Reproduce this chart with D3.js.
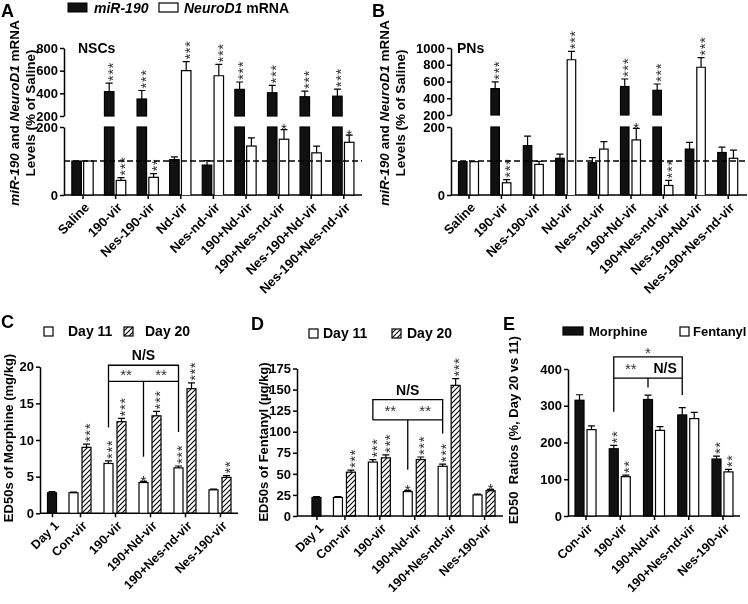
<!DOCTYPE html>
<html><head><meta charset="utf-8">
<script src="https://cdn.jsdelivr.net/npm/d3@7/dist/d3.min.js"></script>
<style>
body{margin:0;background:#fff}
svg{display:block}
text{white-space:pre}
</style></head><body>
<svg id="c" width="748" height="604"></svg>
<script>
// ---------------- DATA ----------------
const catsAB = ["Saline","190-vir","Nes-190-vir","Nd-vir","Nes-nd-vir","190+Nd-vir","190+Nes-nd-vir","Nes-190+Nd-vir","Nes-190+Nes-nd-vir"];
// Panel A (NSCs)
const aMir      = [100,415,350,104,88,435,405,370,375];
const aMirErr   = [0,75,75,8,13,65,65,50,62];
const aMirSig   = ["","***","***","","","***","***","***","***"];
const aNeuro    = [100,43,52,600,555,144,164,124,155];
const aNeuroErr = [0,8,11,80,100,24,28,20,21];
const aNeuroSig = ["","***","**","***","***","","*","","*"];
const aUpperTicks = [200,400,600,800];
// Panel B (PNs)
const bMir      = [98,515,145,108,95,540,495,135,125];
const bMirErr   = [0,80,28,12,15,90,75,20,16];
const bMirSig   = ["","***","","","","***","***","",""];
const bNeuro    = [98,36,90,860,135,162,28,770,108];
const bNeuroErr = [0,9,9,100,22,34,15,115,24];
const bNeuroSig = ["","***","","***","","*","***","***",""];
const bUpperTicks = [200,400,600,800,1000];
const lowerTicks = [0,200];

// Panels C–E groups
const catsCDE = ["Con-vir","190-vir","190+Nd-vir","190+Nes-nd-vir","Nes-190-vir"];
// Panel C (morphine ED50, mg/kg)
const cDay1 = 2.8, cDay1Err = 0.15;
const cDay11 = [2.8,6.8,4.2,6.2,3.2];
const cDay11Err = [0.1,0.35,0.15,0.25,0.1];
const cDay11Sig = ["","***","*","***",""];
const cDay20 = [9.0,12.5,13.3,17.0,4.9];
const cDay20Err = [0.45,0.45,0.6,0.8,0.25];
const cDay20Sig = ["***","***","***","***","**"];
const cTicks = [0,5,10,15,20];
// Panel D (fentanyl ED50, µg/kg)
const dDay1 = 22, dDay1Err = 1;
const dDay11 = [22,64,29,59,25];
const dDay11Err = [1,3,1.5,2.5,1];
const dDay11Sig = ["","***","*","***",""];
const dDay20 = [52,69,67,155,30];
const dDay20Err = [2.5,3.5,3,8,1.5];
const dDay20Sig = ["***","***","***","***","*"];
const dTicks = [0,25,50,75,100,125,150,175];
// Panel E (ED50 ratio %, day 20 vs 11)
const eMorphine = [315,183,317,275,155];
const eMorphineErr = [15,9,12,20,8];
const eMorphineSig = ["","**","","","**"];
const eFentanyl = [235,107,233,265,120];
const eFentanylErr = [10,4,10,17,7];
const eFentanylSig = ["","**","","","**"];
const eTicks = [0,100,200,300,400];

// ---------------- DRAWING ----------------
const FONT = '"Liberation Sans", Arial, Helvetica, sans-serif';
const svgEl = d3.select("#c").attr("font-family", FONT);
const defs = svgEl.append("defs");
defs.append("pattern").attr("id","hatch").attr("patternUnits","userSpaceOnUse")
  .attr("width",5).attr("height",5)
  .append("path").attr("d","M-1,1 l2,-2 M0,5 l5,-5 M4,6 l2,-2")
  .attr("stroke","#000").attr("stroke-width",1.1);
defs.append("filter").attr("id","gray").attr("filterUnits","userSpaceOnUse")
  .attr("x",0).attr("y",0).attr("width",748).attr("height",604)
  .append("feColorMatrix").attr("type","saturate").attr("values",0);
const svg = svgEl.append("g").attr("filter","url(#gray)");
svg.append("rect").attr("width",748).attr("height",604).attr("fill","#fff");

const STAR_FS = 15;
function stars(g, cx, yTop, s){
  if(!s) return;
  if(s.length === 1){
    g.append("text").attr("x",cx).attr("y",yTop - 2 + 0.43*STAR_FS)
      .attr("text-anchor","middle").attr("font-size",STAR_FS).attr("fill","#222").text(s);
  } else {
    g.append("text").attr("transform",`translate(${cx},${yTop-2}) rotate(-90)`)
      .attr("y",0.58*STAR_FS).attr("font-size",STAR_FS).attr("fill","#333")
      .attr("letter-spacing",0.5).text(s);
  }
}
function styleAxis(sel, fs){
  sel.attr("font-family",FONT).attr("font-size",fs).attr("font-weight","bold");
  sel.selectAll("path,line").attr("stroke","#000").attr("stroke-width",1.5);
  sel.selectAll("text").attr("fill","#000");
}
function xLabels(g, pos, cats, axisY, fs){
  const ax = g.append("g").attr("transform",`translate(0,${axisY})`)
    .call(d3.axisBottom(pos).tickSize(4).tickSizeOuter(0));
  ax.select(".domain").remove();
  styleAxis(ax, fs);
  ax.selectAll("text").attr("x",0).attr("y",0).attr("dy","0.35em")
    .attr("text-anchor","end").attr("transform","translate(4,10) rotate(-45)");
}

// ---- broken axis panels A & B ----
function brokenPanel(o){
  const g = svg.append("g");
  const x = d3.scaleBand().domain(o.cats).range(o.xRange);
  const yLo = d3.scaleLinear().domain([0,200]).range(o.yLo);
  const yHi = d3.scaleLinear().domain([200,o.max]).range(o.yHi);
  const yv = v => v <= 200 ? yLo(v) : yHi(v);
  const axLo = g.append("g").attr("transform",`translate(${o.axisX},0)`)
    .call(d3.axisLeft(yLo).tickValues(lowerTicks).tickFormat(d3.format("d")).tickSize(4).tickPadding(2).tickSizeOuter(0));
  const axHi = g.append("g").attr("transform",`translate(${o.axisX},0)`)
    .call(d3.axisLeft(yHi).tickValues(o.hiTicks).tickFormat(d3.format("d")).tickSize(4).tickPadding(2).tickSizeOuter(0));
  styleAxis(axLo,13); styleAxis(axHi,13);
  g.append("line").attr("x1",o.axisX).attr("x2",o.xEnd).attr("y1",yLo(0)).attr("y2",yLo(0))
    .attr("stroke","#000").attr("stroke-width",1.5);
  const cxs = d => x(d) + x.bandwidth()/2;
  o.series.forEach((s,k) => {
    o.cats.forEach((c,i) => {
      const v = s.vals[i], e = s.errs[i];
      const bx = k === 0 ? cxs(c) - o.gap/2 - o.bw : cxs(c) + o.gap/2;
      const dark = s.fill !== "#fff";
      if(v <= 200){
        g.append("rect").attr("x",bx).attr("y",yLo(v)).attr("width",o.bw).attr("height",yLo(0)-yLo(v))
          .attr("fill",s.fill).attr("stroke","#000").attr("stroke-width",1.2);
      } else if(dark){
        g.append("rect").attr("x",bx).attr("y",yLo(200)).attr("width",o.bw).attr("height",yLo(0)-yLo(200))
          .attr("fill",s.fill).attr("stroke","#000").attr("stroke-width",1.2);
        g.append("rect").attr("x",bx).attr("y",yHi(v)).attr("width",o.bw).attr("height",yHi(200)-yHi(v))
          .attr("fill",s.fill).attr("stroke","#000").attr("stroke-width",1.2);
      } else {
        g.append("path").attr("d",`M${bx},${yLo(0)}V${yHi(v)}H${bx+o.bw}V${yLo(0)}`)
          .attr("fill",s.fill).attr("stroke","#000").attr("stroke-width",1.2);
      }
      const mx = bx + o.bw/2;
      if(e > 0){
        g.append("path").attr("d",`M${mx},${yv(v)}V${yv(v+e)}M${mx-3.5},${yv(v+e)}H${mx+3.5}`)
          .attr("stroke","#000").attr("stroke-width",1.2).attr("fill","none");
      }
      stars(g, mx, yv(v+e), s.sig[i]);
    });
  });
  g.append("line").attr("x1",o.axisX).attr("x2",o.xEnd).attr("y1",yLo(100)).attr("y2",yLo(100))
    .attr("stroke","#000").attr("stroke-width",1.5).attr("stroke-dasharray","6,3");
  xLabels(g, d3.scaleOrdinal().domain(o.cats).range(o.cats.map(cxs)), o.cats, yLo(0), 13);
  g.append("text").attr("x",o.titleX).attr("y",53).attr("font-size",14).attr("font-weight","bold").text(o.title);
  const yc = 113;
  const l1 = g.append("text").attr("transform",`translate(${o.labX1},${yc}) rotate(-90)`)
    .attr("text-anchor","middle").attr("font-size",13.5).attr("font-weight","bold");
  l1.append("tspan").attr("font-style","italic").text("miR-190");
  l1.append("tspan").text(" and ");
  l1.append("tspan").attr("font-style","italic").text("NeuroD1");
  l1.append("tspan").text(" mRNA");
  g.append("text").attr("transform",`translate(${o.labX2},${yc}) rotate(-90)`)
    .attr("text-anchor","middle").attr("font-size",13.5).attr("font-weight","bold").text("Levels (% of Saline)");
  g.append("text").attr("x",o.letterX).attr("y",17).attr("font-size",18).attr("font-weight","bold").text(o.letter);
}

brokenPanel({cats:catsAB, xRange:[66.2,359.6], axisX:64, xEnd:362, yLo:[195,127], yHi:[116,48], max:800,
  hiTicks:aUpperTicks, bw:9.5, gap:2.3, title:"NSCs", titleX:78, labX1:19, labX2:35, letter:"A", letterX:1,
  series:[{vals:aMir,errs:aMirErr,sig:aMirSig,fill:"#111"},{vals:aNeuro,errs:aNeuroErr,sig:aNeuroSig,fill:"#fff"}]});
brokenPanel({cats:catsAB, xRange:[452.3,743.9], axisX:451, xEnd:747, yLo:[195,127], yHi:[115,48], max:1000,
  hiTicks:bUpperTicks, bw:8.5, gap:3, title:"PNs", titleX:457, labX1:389, labX2:405, letter:"B", letterX:372,
  series:[{vals:bMir,errs:bMirErr,sig:bMirSig,fill:"#111"},{vals:bNeuro,errs:bNeuroErr,sig:bNeuroSig,fill:"#fff"}]});

// legend for A/B
(function(){
  const g = svg.append("g").attr("font-size",14).attr("font-weight","bold");
  g.append("rect").attr("x",68).attr("y",3).attr("width",19).attr("height",9).attr("fill","#111").attr("stroke","#000");
  g.append("text").attr("x",94).attr("y",13).attr("font-style","italic").text("miR-190");
  g.append("rect").attr("x",159).attr("y",3).attr("width",19).attr("height",9).attr("fill","#fff").attr("stroke","#000").attr("stroke-width",1.2);
  const t = g.append("text").attr("x",184).attr("y",13);
  t.append("tspan").attr("font-style","italic").text("NeuroD1");
  t.append("tspan").text(" mRNA");
})();

// ---- simple panels C, D, E ----
function simplePanel(o){
  const g = svg.append("g");
  const band = d3.scaleBand().domain(o.groups).range(o.xRange);
  const cx = d => band(d) + band.bandwidth()/2;
  const y = d3.scaleLinear().domain([0,o.max]).range(o.yRange);
  const labels = (o.day1 != null ? ["Day 1"] : []).concat(o.groups);
  const pos = d3.scaleOrdinal().domain(labels)
    .range(labels.map(l => l === "Day 1" ? cx(o.groups[0]) - o.day1Offset : cx(l)));
  const ax = g.append("g").attr("transform",`translate(${o.axisX},0)`)
    .call(d3.axisLeft(y).tickValues(o.ticks).tickSize(4).tickPadding(2).tickSizeOuter(0));
  styleAxis(ax,13);
  g.append("line").attr("x1",o.axisX).attr("x2",o.xEnd).attr("y1",y(0)).attr("y2",y(0))
    .attr("stroke","#000").attr("stroke-width",1.5);
  const barX = (k,c) => k === 0 ? cx(c) - o.gap/2 - o.bw : cx(c) + o.gap/2;
  function bar(bx, v, e, fill, sig){
    g.append("rect").attr("x",bx).attr("y",y(v)).attr("width",o.bw).attr("height",y(0)-y(v))
      .attr("fill",fill).attr("stroke","#000").attr("stroke-width",1.2);
    const mx = bx + o.bw/2;
    g.append("path").attr("d",`M${mx},${y(v)}V${y(v+e)}M${mx-3.5},${y(v+e)}H${mx+3.5}`)
      .attr("stroke","#000").attr("stroke-width",1.2).attr("fill","none");
    stars(g, mx, y(v+e), sig);
  }
  if(o.day1 != null) bar(pos("Day 1") - o.bw/2, o.day1, o.day1Err, "#111", "");
  o.series.forEach((s,k) => o.groups.forEach((c,i) => bar(barX(k,c), s.vals[i], s.errs[i], s.fill, s.sig[i])));
  xLabels(g, pos, labels, y(0), 12.5);
  const b = o.bracket;
  const xl = barX(b.series, o.groups[b.l]) + o.bw/2;
  const xm = barX(b.series, o.groups[b.m]) + o.bw/2;
  const xr = barX(b.series, o.groups[b.r]) + o.bw/2;
  const yt = y(b.top), yi = y(b.inner);
  g.append("path").attr("d",
      `M${xl},${y(b.lEnd)}V${yt}H${xr}V${y(b.rEnd)}M${xl},${yi}H${xr}M${xm},${yi}V${y(b.mEnd)}`)
    .attr("fill","none").attr("stroke","#000").attr("stroke-width",1.3);
  const ym = (yt + yi)/2;
  b.texts.forEach(t => {
    const tx = t.at === "top" ? (xl+xr)/2 : t.at === "left" ? (xl+xm)/2 : (xm+xr)/2;
    if(t.s.startsWith("*")){
      const yy = t.at === "top" ? yt - 3 + 0.3*STAR_FS : ym + 0.43*STAR_FS;
      g.append("text").attr("x",tx).attr("y",yy).attr("text-anchor","middle")
        .attr("font-size",STAR_FS).attr("fill","#333").text(t.s);
    } else {
      const yy = t.at === "top" ? yt - 5 : ym + 5;
      g.append("text").attr("x",tx).attr("y",yy).attr("text-anchor","middle")
        .attr("font-size",14).attr("font-weight","bold").text(t.s);
    }
  });
  g.append("text").attr("transform",`translate(${o.labX},${o.labY}) rotate(-90)`)
    .attr("text-anchor","middle").attr("font-size",13).attr("font-weight","bold").text(o.ylabel);
  g.append("text").attr("x",o.letterX).attr("y",o.letterY).attr("font-size",18).attr("font-weight","bold").text(o.letter);
  const lg = g.append("g").attr("font-size",o.legFs).attr("font-weight","bold");
  o.series.forEach((s,k) => {
    const L = o.legend[k];
    lg.append("rect").attr("x",L.x).attr("y",o.legY).attr("width",L.w).attr("height",L.h)
      .attr("fill",s.fill).attr("stroke","#000").attr("stroke-width",1.2);
    lg.append("text").attr("x",L.tx).attr("y",o.legY+9).text(s.name);
  });
}

simplePanel({groups:catsCDE, xRange:[62.5,237.5], axisX:40, xEnd:238, yRange:[513.3,366.7], max:20, ticks:cTicks,
  bw:9, gap:4, day1:cDay1, day1Err:cDay1Err, day1Offset:28,
  series:[{name:"Day 11",vals:cDay11,errs:cDay11Err,sig:cDay11Sig,fill:"#fff"},
          {name:"Day 20",vals:cDay20,errs:cDay20Err,sig:cDay20Sig,fill:"url(#hatch)"}],
  bracket:{series:0,l:1,m:2,r:3,top:20.2,inner:18.0,lEnd:11.7,mEnd:7.7,rEnd:11.1,
    texts:[{at:"top",s:"N/S"},{at:"left",s:"**"},{at:"right",s:"**"}]},
  ylabel:"ED50s of Morphine (mg/kg)", labX:13, labY:438, letter:"C", letterX:1, letterY:328,
  legY:327, legFs:14, legend:[{x:44,w:9,h:9,tx:68},{x:124,w:9,h:9,tx:145}]});

simplePanel({groups:catsCDE, xRange:[327,501.5], axisX:297, xEnd:503, yRange:[516,368.5], max:175, ticks:dTicks,
  bw:9, gap:4, day1:dDay1, day1Err:dDay1Err, day1Offset:28,
  series:[{name:"Day 11",vals:dDay11,errs:dDay11Err,sig:dDay11Sig,fill:"#fff"},
          {name:"Day 20",vals:dDay20,errs:dDay20Err,sig:dDay20Sig,fill:"url(#hatch)"}],
  bracket:{series:0,l:1,m:2,r:3,top:138,inner:114,lEnd:114,mEnd:55,rEnd:98,
    texts:[{at:"top",s:"N/S"},{at:"left",s:"**"},{at:"right",s:"**"}]},
  ylabel:"ED50s of Fentanyl (µg/kg)", labX:268, labY:442, letter:"D", letterX:251, letterY:330,
  legY:329, legFs:14, legend:[{x:309,w:9,h:9,tx:323},{x:392,w:9,h:9,tx:407}]});

simplePanel({groups:catsCDE, xRange:[568.4,739.6], axisX:568, xEnd:740, yRange:[516,369], max:400, ticks:eTicks,
  bw:9, gap:3, day1:null,
  series:[{name:"Morphine",vals:eMorphine,errs:eMorphineErr,sig:eMorphineSig,fill:"#111"},
          {name:"Fentanyl",vals:eFentanyl,errs:eFentanylErr,sig:eFentanylSig,fill:"#fff"}],
  bracket:{series:0,l:1,m:2,r:3,top:433,inner:375,lEnd:284,mEnd:350,rEnd:329,
    texts:[{at:"top",s:"*"},{at:"left",s:"**"},{at:"right",s:"N/S"}]},
  ylabel:"ED50  Ratios (%, Day 20 vs 11)", labX:518, labY:430, letter:"E", letterX:503, letterY:330,
  legY:327, legFs:13, legend:[{x:563,w:20,h:8,tx:589},{x:680,w:9,h:9,tx:693}]});
</script>
</body></html>
